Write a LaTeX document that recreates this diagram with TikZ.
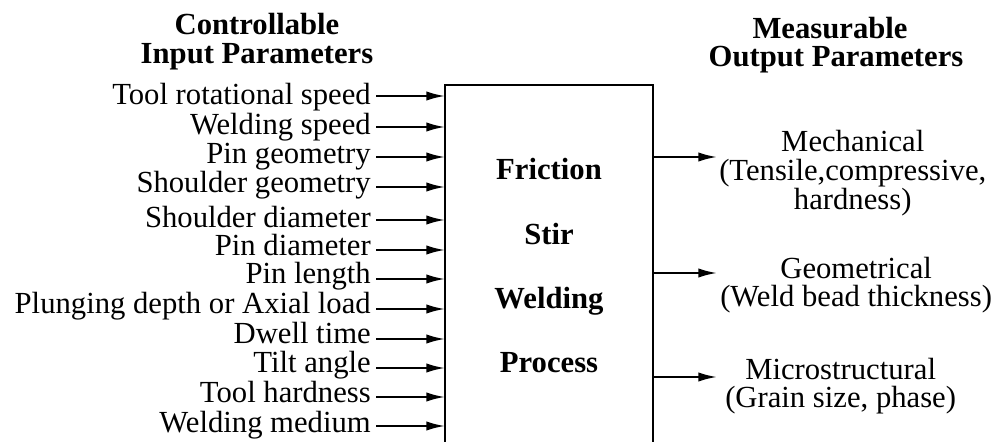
\documentclass[tikz,border=0pt]{standalone}
\usepackage{fontspec}
\setmainfont{Liberation Serif}
\usetikzlibrary{arrows.meta}

\tikzset{
  lbl/.style={inner sep=0pt, font=\fontsize{23}{21.5}\selectfont},
  hdr/.style={inner sep=0pt, font=\fontsize{23}{21.5}\selectfont\bfseries},
  inarrow/.style={line width=1.5pt, -{Latex[length=14pt,width=7pt]}},
  boxline/.style={line width=0.9pt},
}

\begin{document}
\begin{tikzpicture}[x=0.75pt,y=0.75pt,yscale=-1,xscale=1]
        \useasboundingbox (0,0) rectangle (1002,442);

        % headings
        \node[hdr, anchor=base] (ctrl) at (257,35) {Controllable};
        \node[hdr, anchor=base] (inpar) at (257,64) {Input Parameters};
        \node[hdr, anchor=base] (meas) at (830,39) {Measurable};
        \node[hdr, anchor=base] (outpar) at (836,67) {Output Parameters};

        % process box (open at the bottom)
        \coordinate (boxtl) at (445,85);
        \coordinate (boxtr) at (653,85);
        \coordinate (boxbl) at (445,442);
        \coordinate (boxbr) at (653,442);
        \draw[boxline] (boxbl) -- (boxtl) -- (boxtr) -- (boxbr);
        \foreach \word/\yb [count=\i] in {Friction/180, Stir/244, Welding/308, Process/372}
            \node[hdr, anchor=base] (proc\i) at (549,\yb) {\word};

        % input parameters
        \foreach \txt/\ya/\yb [count=\i] in {Tool rotational speed/96/105, Welding speed/127/135,
            Pin geometry/157/163, Shoulder geometry/187/192, Shoulder diameter/220/227,
            Pin diameter/250/255, Pin length/279/283, Plunging depth or Axial load/309/313,
            Dwell time/339/343, Tilt angle/368/372, Tool hardness/397/402, Welding medium/426/432}
        {
            \node[lbl, anchor=base east] (in\i) at (371,\yb) {\txt};
            \coordinate (s\i) at (376,\ya);
            \draw[inarrow] (s\i) -- (s\i -| boxtl);
        }

        % output parameters
        \coordinate (tipx) at (717,0);
        \node[lbl, align=center, anchor=west] (mech) at (719,173) {Mechanical\\(Tensile,compressive,\\hardness)};
        \node[lbl, align=center, anchor=west] (geom) at (720,285) {Geometrical\\(Weld bead thickness)};
        \node[lbl, align=center, anchor=west] (micro) at (725,386) {Microstructural\\(Grain size, phase)};
        \foreach \n/\ya in {mech/157, geom/273, micro/377}
        {
            \coordinate (o\n) at (653,\ya);
            \draw[inarrow] (o\n) -- (o\n -| tipx);
        }
\end{tikzpicture}
\end{document}
